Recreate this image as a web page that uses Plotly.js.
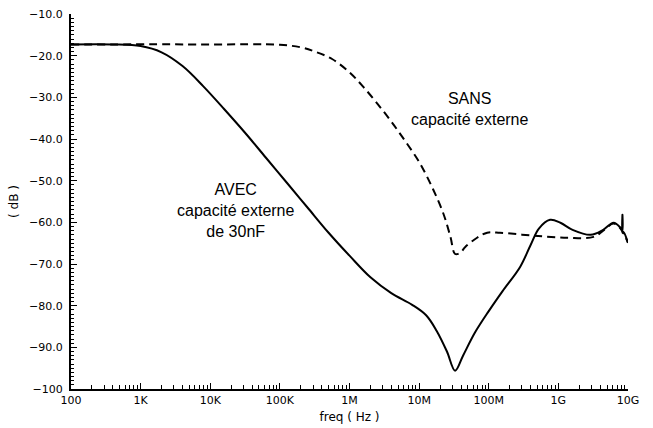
<!DOCTYPE html>
<html>
<head>
<meta charset="utf-8">
<script src="https://cdn.plot.ly/plotly-3.0.1.min.js"></script>
<style>html,body{margin:0;padding:0;background:#fff}#chart{width:653px;height:428px}</style>
</head>
<body>
<div id="chart"></div>
<script>
// AVEC capacité externe de 30nF (solid)
const avecFreq = [1e2, 4.0e2, 1.0e3, 2.0e3, 4.0e3, 7.9e3, 1.58e4, 3.16e4, 6.31e4, 1.26e5, 2.51e5, 5.01e5, 1.0e6, 2.0e6, 3.98e6, 7.94e6, 1.26e7, 1.78e7, 2.51e7, 3.29e7, 4.27e7, 6.31e7, 1.0e8, 1.58e8, 2.82e8, 3.98e8, 5.25e8, 7.6e8, 1.07e9, 1.6e9, 2.9e9, 4.4e9, 6.2e9, 7.8e9, 8.3e9, 8.32e9, 8.34e9, 8.6e9, 1e10];
const avecDb   = [-17.3, -17.3, -17.7, -19.2, -22.5, -27.3, -32.8, -38.5, -44.5, -50.5, -56.5, -62.5, -68.0, -73.2, -77.0, -79.8, -82.3, -86.0, -91.0, -95.6, -92.0, -86.5, -81.3, -76.5, -70.7, -65.5, -61.5, -59.4, -60.1, -61.8, -63.0, -61.8, -60.1, -61.3, -62.0, -58.2, -62.5, -62.3, -64.9];

// SANS capacité externe (dashed)
const sansFreq = [1e2, 1e4, 1e5, 2.0e5, 3.16e5, 5.62e5, 1.0e6, 1.58e6, 2.51e6, 3.98e6, 6.31e6, 1.0e7, 1.58e7, 2.24e7, 2.82e7, 3.29e7, 3.9e7, 4.6e7, 6.8e7, 9.5e7, 1.45e8, 4.4e8, 1.35e9, 3.2e9, 4.4e9, 6.2e9, 7.8e9, 1e10];
const sansDb   = [-17.3, -17.3, -17.4, -18.0, -19.0, -20.8, -24.0, -27.5, -31.5, -35.8, -40.5, -45.5, -52.0, -58.0, -63.5, -67.6, -67.3, -65.9, -63.7, -62.5, -62.5, -63.2, -63.7, -63.5, -62.0, -60.3, -61.5, -64.9];

// tick labels
const xTickVals = [1e2, 1e3, 1e4, 1e5, 1e6, 1e7, 1e8, 1e9, 1e10];
const xTickText = ['100', '1K', '10K', '100K', '1M', '10M', '100M', '1G', '10G'];
const yTickVals = [-10, -20, -30, -40, -50, -60, -70, -80, -90, -100];
const yTickText = ['\u221210.0', '\u221220.0', '\u221230.0', '\u221240.0', '\u221250.0', '\u221260.0', '\u221270.0', '\u221280.0', '\u221290.0', '\u2212100'];

const traces = [
  {x: sansFreq, y: sansDb, mode: 'lines', name: 'SANS capacité externe',
   line: {color: '#000', width: 2, dash: '8px,5px', shape: 'spline', smoothing: 1}},
  {x: avecFreq, y: avecDb, mode: 'lines', name: 'AVEC capacité externe de 30nF',
   line: {color: '#000', width: 2, shape: 'spline', smoothing: 1}}
];

const tickFont = {family: 'DejaVu Sans, sans-serif', size: 11, color: '#000'};
const titleFont = {family: 'DejaVu Sans, sans-serif', size: 12, color: '#000'};

const layout = {
  width: 653, height: 428,
  margin: {l: 71, r: 25, t: 14, b: 39, pad: 0},
  paper_bgcolor: '#fff', plot_bgcolor: '#fff',
  showlegend: false,
  font: {family: 'DejaVu Sans, sans-serif', color: '#000'},
  xaxis: {
    type: 'log', range: [2, 10],
    tickmode: 'array', tickvals: xTickVals, ticktext: xTickText,
    ticks: 'inside', ticklen: 6, tickwidth: 1, tickcolor: '#000',
    showline: true, linecolor: '#000', linewidth: 2,
    showgrid: false, zeroline: false,
    tickfont: tickFont,
    minor: {tickmode: 'linear', dtick: 'D1', ticks: 'inside', ticklen: 4, tickwidth: 1, tickcolor: '#000', showgrid: false},
    title: {text: 'freq ( Hz )', font: titleFont, standoff: 6}
  },
  yaxis: {
    range: [-100, -10],
    tickmode: 'array', tickvals: yTickVals, ticktext: yTickText,
    ticks: 'inside', ticklen: 6, tickwidth: 1, tickcolor: '#000',
    showline: true, linecolor: '#000', linewidth: 2,
    showgrid: false, zeroline: false,
    tickfont: tickFont,
    ticklabelstandoff: 4,
    minor: {tickmode: 'linear', tick0: -100, dtick: 1, ticks: 'inside', ticklen: 3, tickwidth: 1, tickcolor: '#000', showgrid: false},
    title: {text: '( dB )', font: titleFont, standoff: 8}
  },
  annotations: [
    {xref: 'x', yref: 'y', x: 4.37, y: -57.2, showarrow: false,
     text: 'AVEC<br>capacité externe<br>de 30nF',
     font: {family: 'Liberation Sans, Arial, sans-serif', size: 16, color: '#000'}, align: 'center'},
    {xref: 'x', yref: 'y', x: 7.73, y: -32.8, showarrow: false,
     text: 'SANS<br>capacité externe',
     font: {family: 'Liberation Sans, Arial, sans-serif', size: 16, color: '#000'}, align: 'center'}
  ]
};

Plotly.newPlot('chart', traces, layout, {staticPlot: true, displayModeBar: false});
</script>
</body>
</html>
